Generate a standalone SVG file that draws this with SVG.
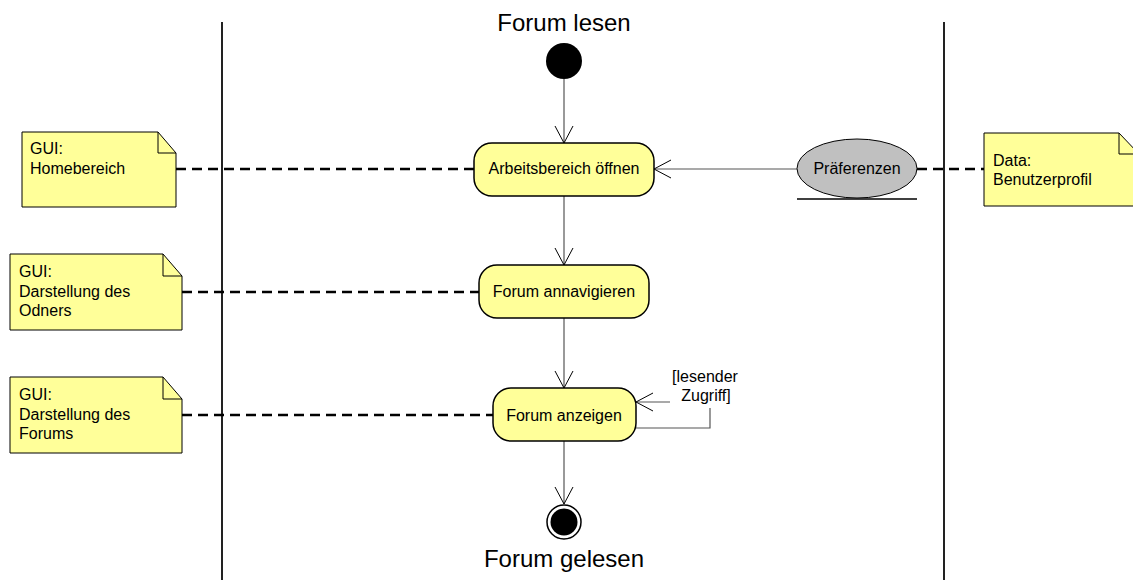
<svg xmlns="http://www.w3.org/2000/svg" width="1133" height="580" viewBox="0 0 1133 580">
<style>
text{font-family:"Liberation Sans",Arial,sans-serif;font-size:16px;fill:#000}
.title{font-size:24px;text-anchor:middle}
.c{text-anchor:middle}
.note{fill:#ffff99;stroke:#000;stroke-width:1}
.act{fill:#ffff99;stroke:#000;stroke-width:1.5}
.flow{fill:none;stroke:#555;stroke-width:1.2}
.dash{fill:none;stroke:#000;stroke-width:2.5;stroke-dasharray:10,6}
.lane{stroke:#222;stroke-width:2}
</style>
<defs>
<marker id="open" viewBox="0 0 20 20" refX="18" refY="10" markerWidth="20" markerHeight="20" markerUnits="userSpaceOnUse" orient="auto">
<path d="M1,1 L18,10 L1,19" fill="none" stroke="#000" stroke-width="1"/>
</marker>
</defs>
<g id="lanes">
<line class="lane" x1="222" y1="22" x2="222" y2="580"/>
<line class="lane" x1="944" y1="22" x2="944" y2="580"/>
</g>
<text class="title" x="564" y="31">Forum lesen</text>
<text class="title" x="564" y="567">Forum gelesen</text>
<g id="connectors">
<line class="dash" x1="176" y1="169" x2="474" y2="169"/>
<line class="dash" x1="182" y1="292" x2="479" y2="292"/>
<line class="dash" x1="182" y1="415" x2="493" y2="415"/>
<line class="dash" x1="917" y1="169" x2="984" y2="169"/>
<line class="flow" x1="564" y1="79" x2="564" y2="143" marker-end="url(#open)"/>
<line class="flow" x1="564" y1="196" x2="564" y2="265" marker-end="url(#open)"/>
<line class="flow" x1="564" y1="318" x2="564" y2="388" marker-end="url(#open)"/>
<line class="flow" x1="564" y1="441" x2="564" y2="504" marker-end="url(#open)"/>
<line class="flow" x1="797" y1="169" x2="654" y2="169" marker-end="url(#open)"/>
<polyline class="flow" points="636,428 710,428 710,408"/>
<line class="flow" x1="670" y1="402" x2="636" y2="402" marker-end="url(#open)"/>
<text class="c" x="705" y="382">[lesender</text>
<text class="c" x="706" y="401">Zugriff]</text>
</g>
<g id="start"><circle cx="564" cy="61" r="18" fill="#000"/></g>
<g id="end"><circle cx="564" cy="522" r="17" fill="#fff" stroke="#000" stroke-width="1.5"/><circle cx="564" cy="522" r="13.5" fill="#000"/></g>
<g id="arbeitsbereich">
<rect class="act" x="474" y="143" width="180" height="53" rx="18"/>
<text class="c" x="564" y="174">Arbeitsbereich öffnen</text>
</g>
<g id="annavigieren">
<rect class="act" x="479" y="265" width="170" height="53" rx="18"/>
<text class="c" x="564" y="297">Forum annavigieren</text>
</g>
<g id="anzeigen">
<rect class="act" x="493" y="388" width="143" height="53" rx="18"/>
<text class="c" x="564" y="421">Forum anzeigen</text>
</g>
<g id="praeferenzen">
<ellipse cx="857" cy="168.5" rx="60" ry="29.5" fill="#c0c0c0" stroke="#000" stroke-width="1"/>
<line x1="797" y1="199" x2="917" y2="199" stroke="#000" stroke-width="1.5"/>
<text class="c" x="857" y="174">Präferenzen</text>
</g>
<g id="note-home">
<path class="note" d="M22,132 H158 L176,153 V207 H22 Z"/>
<path d="M158,132 V153 H176" fill="none" stroke="#000"/>
<text x="30" y="154">GUI:</text>
<text x="30" y="174">Homebereich</text>
</g>
<g id="note-odner">
<path class="note" d="M10,254 H163 L182,276 V330 H10 Z"/>
<path d="M163,254 V276 H182" fill="none" stroke="#000"/>
<text x="19" y="277">GUI:</text>
<text x="19" y="297">Darstellung des</text>
<text x="19" y="316">Odners</text>
</g>
<g id="note-forums">
<path class="note" d="M10,377 H163 L182,399 V453 H10 Z"/>
<path d="M163,377 V399 H182" fill="none" stroke="#000"/>
<text x="19" y="400">GUI:</text>
<text x="19" y="420">Darstellung des</text>
<text x="19" y="439">Forums</text>
</g>
<g id="note-data">
<path class="note" d="M984,133 H1119 L1139,154 V206 H984 Z"/>
<path d="M1119,133 V154 H1139" fill="none" stroke="#000"/>
<text x="993" y="166">Data:</text>
<text x="993" y="185">Benutzerprofil</text>
</g>
</svg>
